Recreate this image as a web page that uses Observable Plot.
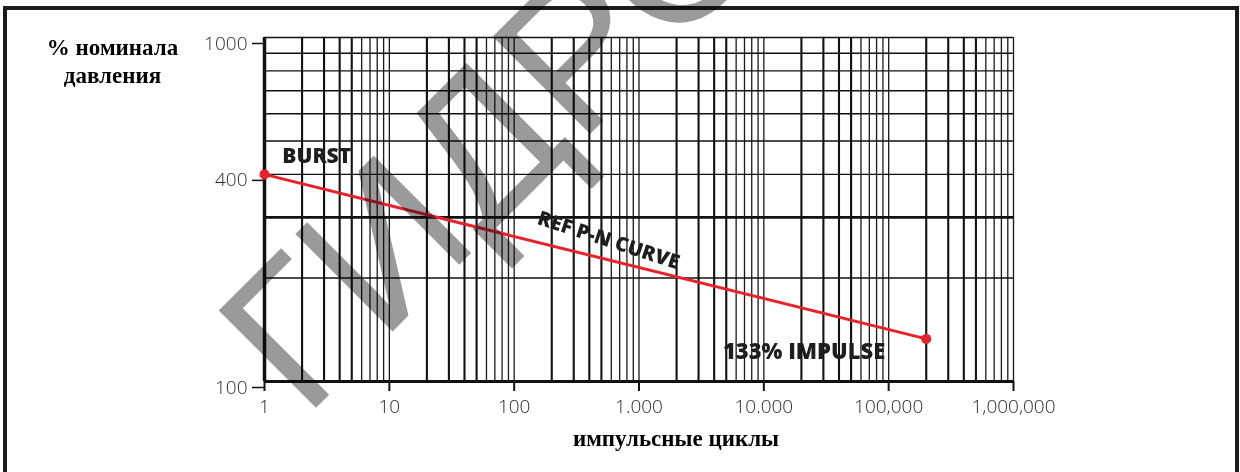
<!DOCTYPE html>
<html>
<head>
<meta charset="utf-8">
<script src="https://cdn.jsdelivr.net/npm/d3@7"></script>
<script src="https://cdn.jsdelivr.net/npm/@observablehq/plot@0.6"></script>
<style>
  html, body { margin: 0; padding: 0; background: #fff; }
  #wrap { position: relative; width: 1240px; height: 472px; overflow: hidden; }
  #frame { position: absolute; left: 3px; top: 6px; width: 1228px; height: 480px;
           border-left: 4px solid #1c1c1c; border-top: 4px solid #1c1c1c; border-right: 4px solid #1c1c1c; }
  #chart { position: absolute; left: 0; top: 0; }
</style>
</head>
<body>
<div id="wrap"><div id="frame"></div><div id="chart"></div></div>
<script>
// ---- data ----
const xTicks = [1, 10, 100, 1000, 10000, 100000, 1000000];
const xTickLabels = ["1", "10", "100", "1.000", "10.000", "100,000", "1,000,000"];
const yTicks = [100, 400, 1000];
const yTickLabels = ["100", "400", "1000"];
const gridMultipliers = [1, 2, 3, 4, 5, 6, 7, 8, 9];
const gridDecades = [1, 10, 100, 1000, 10000, 100000];
const gridEnd = [1000000];
const gridY = [100, 200, 300, 400, 500, 600, 700, 800, 900, 1000];
const heavyMultipliers = [2, 3, 4, 5];
const heavyY = [300];
const curveCycles = [1, 200000];
const curvePressure = [400, 133];
const yTitle = "% номинала\nдавления";
const xTitle = "импульсные циклы";
const watermark = "ГИДРО";

const gridX = gridDecades.flatMap(d => gridMultipliers.map(m => m * d)).concat(gridEnd);
const gridXHeavy = gridX.filter(v => heavyMultipliers.includes(Math.round(v / Math.pow(10, Math.floor(Math.log10(v) + 1e-9)))));
const gridXLight = gridX.filter(v => !gridXHeavy.includes(v));
const curve = curveCycles.map((c, i) => ({cycles: c, pressure: curvePressure[i]}));
const xLab = new Map(xTicks.map((t, i) => [t, xTickLabels[i]]));
const yLab = new Map(yTicks.map((t, i) => [t, yTickLabels[i]]));

const tickFont = {fontFamily: "'Open Sans', sans-serif", fontWeight: 300, fontSize: 19, fill: "#2a2a2a"};
const annFont = {fontFamily: "'Open Sans', sans-serif", fontWeight: 800, fill: "#1e1e1e"};
const titleFont = {fontFamily: "'Liberation Serif', 'Times New Roman', serif", fontWeight: 700, fontSize: 23, fill: "#000"};

const chart = Plot.plot({
  width: 1240,
  height: 472,
  marginLeft: 264,
  marginRight: 227,
  marginTop: 37,
  marginBottom: 91,
  style: {background: "transparent"},
  x: {type: "log", domain: [1, 1000000]},
  y: {type: "log", domain: [100, 1000]},
  marks: [
    // grid
    Plot.ruleX(gridXLight, {stroke: "#1a1a1a", strokeWidth: 1.3}),
    Plot.ruleX(gridXHeavy, {stroke: "#111", strokeWidth: 2.1}),
    Plot.ruleY(gridY, {stroke: "#111", strokeWidth: 1.4}),
    Plot.ruleY(heavyY, {stroke: "#111", strokeWidth: 2.6}),
    Plot.ruleY([100], {stroke: "#111", strokeWidth: 3}),
    Plot.ruleX([1], {stroke: "#111", strokeWidth: 3.5}),
    // axes
    Plot.axisX({ticks: xTicks, tickSize: 10, tickPadding: 8, tickFormat: d => xLab.get(d), label: null,
      stroke: "#111", strokeWidth: 2, ...tickFont, letterSpacing: 0.5}),
    Plot.axisY({ticks: yTicks, tickSize: 12, tickPadding: 5, tickFormat: d => yLab.get(d), label: null,
      stroke: "#111", strokeWidth: 1.5, dy: 6, ...tickFont, letterSpacing: 0.5}),
    // curve
    Plot.line(curve, {x: "cycles", y: "pressure", stroke: "#e8212b", strokeWidth: 3}),
    Plot.dot(curve, {x: "cycles", y: "pressure", r: 5, fill: "#e8212b"}),
    // annotations
    Plot.text(["BURST"], {x: 1.39, y: 451, text: d => d, textAnchor: "start", fontSize: 21, ...annFont}),
    Plot.text(["REF P-N CURVE"], {x: 570, y: 257, text: d => d, rotate: 18, fontSize: 20, ...annFont}),
    Plot.text(["133% IMPULSE"], {x: 4700, y: 121.5, text: d => d, textAnchor: "start", fontSize: 22, ...annFont}),
    // titles
    Plot.text([yTitle], {frameAnchor: "top-left", dx: -152, dy: -2, text: d => d, textAnchor: "middle",
      lineAnchor: "top", lineHeight: 1.2, ...titleFont}),
    Plot.text([xTitle], {frameAnchor: "bottom", dx: 37, dy: 64, text: d => d, textAnchor: "middle",
      lineAnchor: "bottom", ...titleFont}),
    // watermark
    Plot.text([watermark], {frameAnchor: "bottom-left", dx: 40, dy: 38, text: d => d, rotate: -45,
      textAnchor: "start", lineAnchor: "bottom", fontSize: 200, letterSpacing: 6,
      fontFamily: "'Liberation Sans', Arial, sans-serif",
      fill: "#9a9a9a", mixBlendMode: "multiply"})
  ]
});
document.getElementById("chart").appendChild(chart);
</script>
</body>
</html>
